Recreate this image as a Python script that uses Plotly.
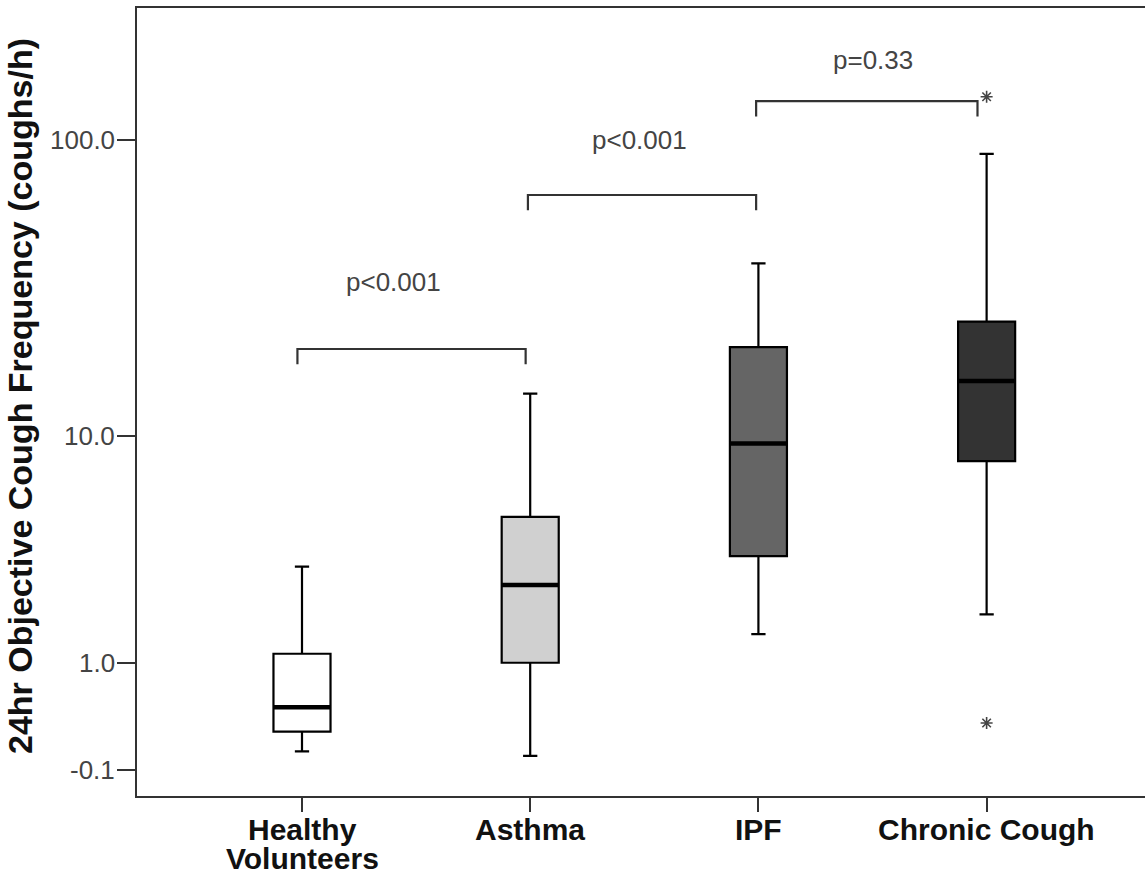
import numpy as np
import plotly.graph_objects as go

# ---------------- data (coughs/h) ----------------
categories = ["Healthy\nVolunteers", "Asthma", "IPF", "Chronic Cough"]
upper_whisker = [3.13, 14.1, 39.1, 90.0]
q3_values = [1.15, 5.0, 20.4, 24.9]
median_values = [0.44, 2.6, 9.4, 15.6]
q1_values = [0.20, 1.01, 3.47, 8.1]
lower_whisker = [0.035, 0.0, 1.49, 1.89]
outlier_group = [3, 3]
outlier_values = [138.7, 0.28]
fill_colors = ["#ffffff", "#d0d0d0", "#656565", "#333333"]

y_tick_values = [-0.1, 1.0, 10.0, 100.0]
y_tick_labels = ["-0.1", "1.0", "10.0", "100.0"]

# comparisons: (group a, group b, label)
comparisons = [(0, 1, "p<0.001"), (1, 2, "p<0.001"), (2, 3, "p=0.33")]
bracket_level = [20.1, 65.9, 134.2]      # coughs/h where bracket sits
label_level = [33.9, 100.0, 183.0]       # coughs/h where p-value text sits
label_pos = [0.40, 1.48, 2.50]
bracket_end_offsets = [(-0.02, -0.02), (-0.01, -0.01), (-0.01, -0.04)]


def tr(v):
    return np.log10(np.asarray(v, dtype=float) + 1.0)


FONT = "Liberation Sans, Arial, sans-serif"
BOX_W = 0.25
PLOT_W = 1145 - 137

fig = go.Figure()

for i in range(len(categories)):
    fig.add_trace(go.Box(
        x=[i], q1=[tr(q1_values[i])], median=[tr(median_values[i])],
        q3=[tr(q3_values[i])], lowerfence=[tr(lower_whisker[i])],
        upperfence=[tr(upper_whisker[i])],
        width=BOX_W, whiskerwidth=0.25, boxpoints=False,
        fillcolor=fill_colors[i], line=dict(color="#000000", width=2.2),
        hoverinfo="skip",
    ))
    # thick median bar
    fig.add_trace(go.Scatter(
        x=[i - BOX_W / 2, i + BOX_W / 2],
        y=[tr(median_values[i])] * 2,
        mode="lines", line=dict(color="#000000", width=4.5),
        hoverinfo="skip",
    ))

fig.add_trace(go.Scatter(
    x=outlier_group, y=tr(outlier_values), mode="markers",
    marker=dict(symbol="asterisk-open", size=10, color="#444444",
                line=dict(color="#444444", width=1.6)),
    hoverinfo="skip",
))

shapes = []
annotations = []
drop = 0.05
for k, (a, b, lab) in enumerate(comparisons):
    yb = float(tr(bracket_level[k]))
    xa = a + bracket_end_offsets[k][0]
    xb = b + bracket_end_offsets[k][1]
    shapes.append(dict(
        type="path", xref="x", yref="y",
        path=f"M {xa},{yb - drop} L {xa},{yb} L {xb},{yb} L {xb},{yb - drop}",
        line=dict(color="#333333", width=2.2),
    ))
    annotations.append(dict(
        x=label_pos[k], y=float(tr(label_level[k])), xref="x", yref="y",
        text=lab, showarrow=False, xanchor="center", yanchor="middle",
        font=dict(family=FONT, size=26, color="#444444"),
    ))

# y tick labels (placed close to the tick marks)
for v, lab in zip(y_tick_values, y_tick_labels):
    annotations.append(dict(
        x=-20 / PLOT_W, y=float(tr(v)), xref="paper", yref="y",
        text=lab, showarrow=False, xanchor="right", yanchor="middle",
        font=dict(family=FONT, size=26, color="#444444"),
    ))

for i, cat in enumerate(categories):
    for j, line in enumerate(cat.split("\n")):
        annotations.append(dict(
            x=i, y=0, xref="x", yref="paper", text=line, showarrow=False,
            xanchor="center", yanchor="top", yshift=-15 - 29 * j,
            font=dict(family=FONT, size=30, color="#111111", weight="bold"),
        ))

annotations.append(dict(
    x=-117 / PLOT_W, y=0.5076, xref="paper", yref="paper",
    text="24hr Objective Cough Frequency (coughs/h)", textangle=-90,
    showarrow=False, xanchor="center", yanchor="middle",
    font=dict(family=FONT, size=34, color="#111111", weight="bold"),
))

fig.update_layout(
    width=1145, height=876,
    margin=dict(l=137, r=0, t=8, b=80),
    plot_bgcolor="#ffffff", paper_bgcolor="#ffffff",
    showlegend=False,
    shapes=shapes, annotations=annotations,
    xaxis=dict(
        range=[-0.723, 3.694], tickvals=list(range(len(categories))),
        showticklabels=False, ticks="outside", ticklen=14, tickwidth=2,
        tickcolor="#333333", showline=True, linecolor="#333333",
        linewidth=2, mirror=True, showgrid=False, zeroline=False,
    ),
    yaxis=dict(
        range=[-0.1304, 2.4339], tickvals=tr(y_tick_values).tolist(),
        showticklabels=False, ticks="outside", ticklen=18, tickwidth=2,
        tickcolor="#333333", showline=True, linecolor="#333333",
        linewidth=2, showgrid=False, zeroline=False,
    ),
)

fig.write_html("out.html")
